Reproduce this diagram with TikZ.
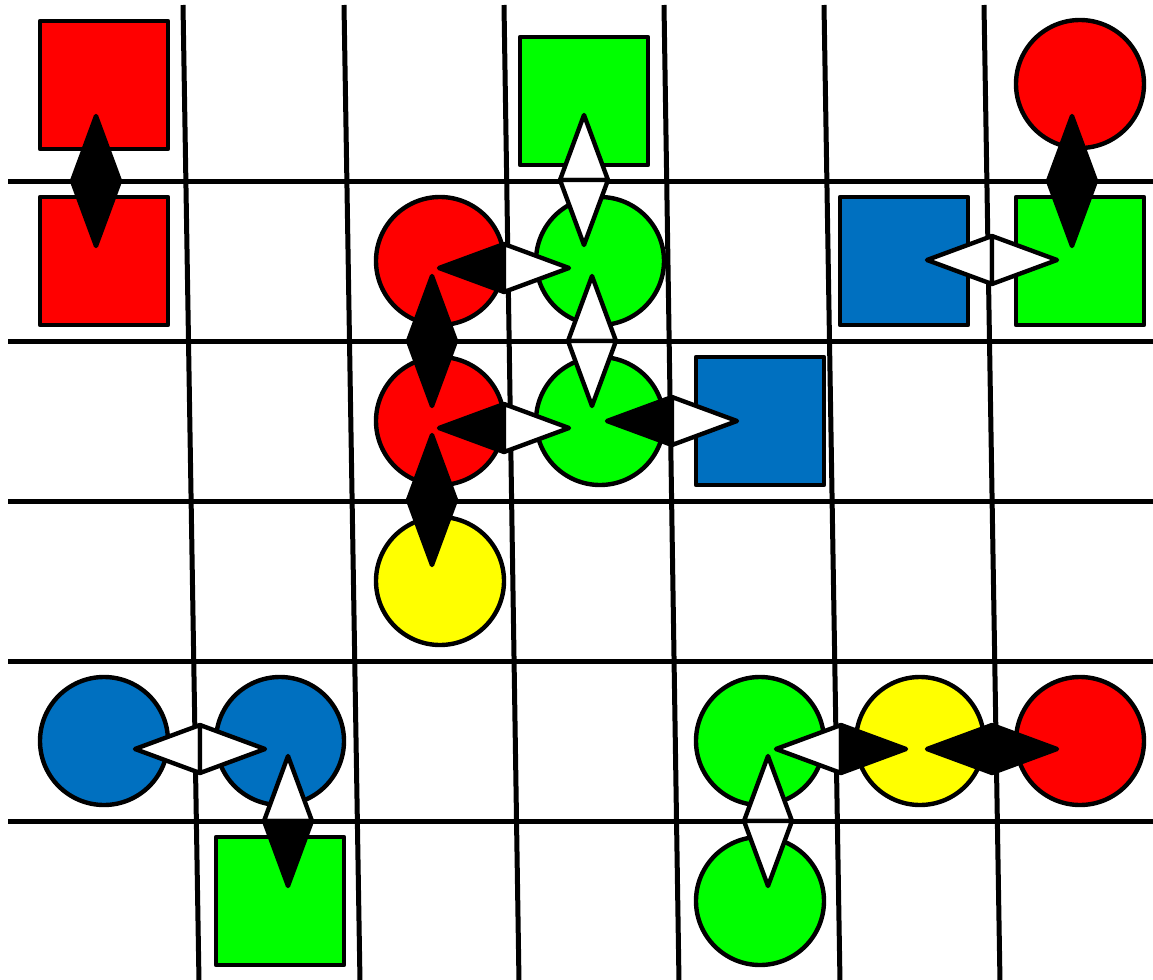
\documentclass[tikz,border=0pt]{standalone}
\definecolor{cred}{RGB}{255,0,0}
\definecolor{cgreen}{RGB}{0,255,0}
\definecolor{cblue}{RGB}{0,112,192}
\definecolor{cyellow}{RGB}{255,255,0}
\tikzset{
  gridline/.style={line width=2.5pt, draw=black},
  sq/.style={rectangle, draw=black, line width=2.2pt, minimum size=64pt, inner sep=0pt, line join=round},
  ci/.style={circle, draw=black, line width=2.2pt, minimum size=64pt, inner sep=0pt},
  kitehalf/.style={draw=black, line width=2.2pt, line join=round},
}
\newcommand{\hkite}[3]{%
  \begin{scope}[shift={(#1)}]
    \filldraw[kitehalf, fill=#2] (0,-24) -- (-65,0) -- (0,24) -- cycle;
    \filldraw[kitehalf, fill=#3] (0,-24) -- (65,0) -- (0,24) -- cycle;
  \end{scope}}
\newcommand{\vkite}[3]{%
  \begin{scope}[shift={(#1)}]
    \filldraw[kitehalf, fill=#2] (-24,0) -- (0,-65) -- (24,0) -- cycle;
    \filldraw[kitehalf, fill=#3] (-24,0) -- (0,65) -- (24,0) -- cycle;
  \end{scope}}
\begin{document}
\begin{tikzpicture}[x=0.5pt,y=-0.5pt]
\useasboundingbox (0,0) rectangle (1153,980);
\fill[white] (0,0) rectangle (1153,980);
% grid
\foreach \yy in {181,341,501,661,821} \draw[gridline] (8,\yy) -- (1153,\yy);
\foreach \xt/\xb in {183/199,344/360,504/519,664/679,824/840,984/1000}
  \draw[gridline] (\xt,5) -- (\xb,982);
% shapes
\node[sq, fill=cred] (rs1) at (104,85) {};
\node[sq, fill=cred] (rs2) at (104,261) {};
\node[sq, fill=cgreen] (gsT) at (584,101) {};
\node[ci, fill=cred] (rcTR) at (1080,84) {};
\node[ci, fill=cred] (rc1) at (440,261) {};
\node[ci, fill=cgreen] (gc1) at (600,261) {};
\node[sq, fill=cblue] (bs1) at (904,261) {};
\node[sq, fill=cgreen] (gs1) at (1080,261) {};
\node[ci, fill=cred] (rc2) at (440,421) {};
\node[ci, fill=cgreen] (gc2) at (600,421) {};
\node[sq, fill=cblue] (bs2) at (760,421) {};
\node[ci, fill=cyellow] (yc3) at (440,581) {};
\node[ci, fill=cblue] (bc4a) at (104,741) {};
\node[ci, fill=cblue] (bc4b) at (280,741) {};
\node[ci, fill=cgreen] (gc4) at (760,741) {};
\node[ci, fill=cyellow] (yc4) at (920,741) {};
\node[ci, fill=cred] (rc4) at (1080,741) {};
\node[sq, fill=cgreen] (gs5) at (280,901) {};
\node[ci, fill=cgreen] (gc5) at (760,901) {};
% connector centres
\coordinate (k1) at (96,181);
\coordinate (k2) at (584,180);
\coordinate (k3) at (504,268);
\coordinate (k4) at (432,341);
\coordinate (k5) at (592,341);
\coordinate (k6) at (504,428);
\coordinate (k7) at (672,421);
\coordinate (k8) at (432,500);
\coordinate (k9) at (1072,181);
\coordinate (k10) at (992,260);
\coordinate (k11) at (200,749);
\coordinate (k12) at (288,821);
\coordinate (k13) at (841,749);
\coordinate (k14) at (992,749);
\coordinate (k15) at (768,821);
% connectors
\vkite{k1}{black}{black}
\vkite{k2}{white}{white}
\hkite{k3}{black}{white}
\vkite{k4}{black}{black}
\vkite{k5}{white}{white}
\hkite{k6}{black}{white}
\hkite{k7}{black}{white}
\vkite{k8}{black}{black}
\vkite{k9}{black}{black}
\hkite{k10}{white}{white}
\hkite{k11}{white}{white}
\vkite{k12}{white}{black}
\hkite{k13}{white}{black}
\hkite{k14}{black}{black}
\vkite{k15}{white}{white}
\end{tikzpicture}
\end{document}
